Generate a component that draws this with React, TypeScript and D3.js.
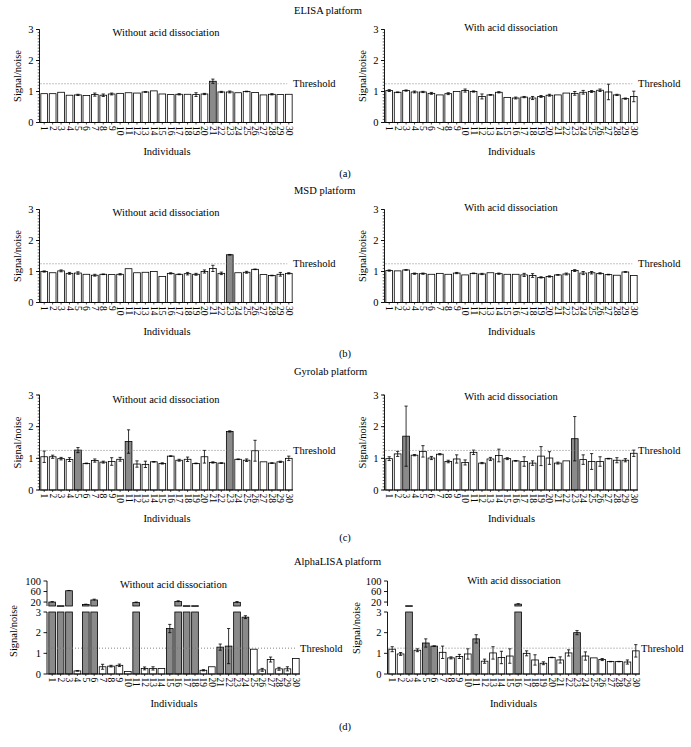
import React from "react";
import * as d3 from "d3";

const individuals = ["1","2","3","4","5","6","7","8","9","10","11","12","13","14","15","16","17","18","19","20","21","22","23","24","25","26","27","28","29","30"];
const yTicks = [0, 1, 2, 3];
const upperTicks = [20, 60, 100];
const threshold = 1.25;

const platformTitles = ["ELISA platform", "MSD platform", "Gyrolab platform", "AlphaLISA platform"];
const panelLetters = ["(a)", "(b)", "(c)", "(d)"];
const subtitles = ["Without acid dissociation", "With acid dissociation"];

// ELISA
const elisaWithout = [0.93,0.93,0.975,0.88,0.89,0.87,0.9,0.88,0.92,0.94,0.96,0.95,0.985,1.02,0.92,0.9,0.91,0.91,0.9,0.92,1.33,0.985,0.985,0.96,1.0,0.97,0.89,0.91,0.9,0.91];
const elisaWithoutErr = [0,0,0,0,0.02,0,0.05,0.04,0.03,0,0,0,0.01,0,0,0,0.02,0,0.06,0.02,0.07,0.02,0.03,0,0.01,0,0,0.02,0,0];
const elisaWithoutPos = ["21"];
const elisaWith = [1.03,0.975,1.03,0.985,0.985,0.94,0.89,0.93,1.0,1.03,1.0,0.84,0.89,0.975,0.81,0.79,0.82,0.79,0.84,0.88,0.89,0.95,0.94,0.975,1.0,1.04,0.985,0.89,0.77,0.84];
const elisaWithErr = [0.03,0.01,0.02,0.03,0.02,0.03,0,0.03,0,0.05,0.02,0.08,0.01,0.02,0,0.03,0.02,0.05,0.03,0.03,0,0,0.06,0.06,0.03,0.04,0.25,0.02,0.02,0.17];
const elisaWithPos: string[] = [];

// MSD
const msdWithout = [1.0,0.96,1.02,0.94,0.95,0.91,0.88,0.91,0.9,0.91,1.09,0.96,0.975,1.0,0.84,0.94,0.91,0.93,0.91,1.0,1.1,0.94,1.54,0.96,0.975,1.07,0.9,0.87,0.91,0.94];
const msdWithoutErr = [0.02,0,0.03,0.03,0.04,0,0.03,0.01,0,0.02,0,0,0,0,0,0.02,0.01,0.04,0.03,0.05,0.1,0.04,0.01,0,0.03,0.01,0,0.01,0.06,0.02];
const msdWithoutPos = ["23"];
const msdWith = [1.03,1.02,1.05,0.93,0.93,0.91,0.94,0.91,0.95,0.89,0.94,0.92,0.96,0.93,0.91,0.91,0.89,0.87,0.81,0.84,0.89,0.92,1.03,0.95,0.96,0.94,0.9,0.88,0.985,0.87];
const msdWithErr = [0.02,0,0.01,0.02,0.02,0,0,0,0.02,0,0.01,0.02,0,0.02,0,0,0.05,0.06,0.02,0.02,0.01,0.03,0.03,0.05,0.04,0.02,0.01,0,0.01,0];
const msdWithPos: string[] = [];

// Gyrolab
const gyroWithout = [1.05,1.05,0.99,0.96,1.26,0.84,0.93,0.88,0.9,0.97,1.53,0.82,0.81,0.89,0.84,1.07,0.94,0.97,0.84,1.05,0.87,0.85,1.85,0.97,0.94,1.24,0.89,0.85,0.89,1.0];
const gyroWithoutErr = [0.18,0.05,0.04,0.06,0.08,0.01,0.05,0.03,0.12,0.06,0.37,0.1,0.1,0.01,0.02,0.01,0.03,0.07,0.01,0.2,0.02,0.01,0.02,0.01,0.04,0.33,0,0.01,0.02,0.07];
const gyroWithoutPos = ["5", "11", "23"];
const gyroWith = [0.99,1.14,1.7,1.1,1.22,1.01,1.13,0.9,0.98,0.87,1.19,0.85,0.98,1.09,0.99,0.92,0.9,0.85,1.07,1.01,0.85,0.92,1.62,0.96,0.9,0.9,0.99,0.94,0.94,1.16];
const gyroWithErr = [0.06,0.08,0.95,0.02,0.18,0.05,0.02,0.04,0.13,0.08,0.07,0.02,0.05,0.2,0.03,0.01,0.15,0.07,0.3,0.2,0.03,0,0.7,0.15,0.25,0.15,0.01,0.08,0.05,0.1];
const gyroWithPos = ["3", "23"];

// AlphaLISA
const alphaWithout = [20,6,63,0.15,11,28,0.35,0.38,0.42,0.12,18,0.27,0.27,0.27,2.2,22,6,6,0.18,0.35,1.3,1.35,19,2.75,1.2,0.2,0.7,0.25,0.25,0.75];
const alphaWithoutErr = [2,0,1,0.01,1,3,0.12,0.04,0.06,0,2,0.07,0.08,0,0.2,3,0,0,0.03,0,0.15,0.85,3,0.07,0,0.07,0.12,0.07,0.1,0];
const alphaWithoutPos = ["1","2","3","5","6","11","15","16","17","18","21","22","23","24"];
const alphaWith = [1.2,0.97,6,1.15,1.5,1.35,1.05,0.78,0.85,0.97,1.7,0.62,1.02,0.8,0.87,12,1.0,0.68,0.52,0.8,0.68,1.02,2.0,0.87,0.78,0.7,0.6,0.6,0.58,1.12];
const alphaWithErr = [0.12,0.07,0,0.07,0.2,0.01,0.3,0.05,0.1,0.25,0.2,0.1,0.3,0.3,0.35,2,0.12,0.25,0.07,0.01,0.15,0.15,0.1,0.2,0,0.05,0.01,0.01,0.1,0.3];
const alphaWithPos = ["3","5","6","11","16","23"];

const FONT = "'Liberation Serif', 'DejaVu Serif', serif";
const GRAY = "#8a8a8a";
const FS = 10.5;

type Layout = {
  axisX: number; x0: number; x1: number; y0: number; yTop: number;
  subX: number; subY: number; indX: number; indY: number;
  labX: number; thrX: number;
};

function XAxis({ x, y0, axisX, x1 }: any) {
  return (
    <g>
      <line x1={axisX} x2={x1} y1={y0} y2={y0} stroke="#000" strokeWidth={0.9} />
      {individuals.map((d) => {
        const cx = (x(d) as number) + x.bandwidth() / 2;
        return (
          <g key={d}>
            <line x1={cx} x2={cx} y1={y0} y2={y0 + 2} stroke="#000" strokeWidth={0.7} />
            <text x={0} y={0} transform={`translate(${cx},${y0 + 3.5}) rotate(90)`} fontSize={9.5} dominantBaseline="central" textAnchor="start" fontFamily={FONT}>{d}</text>
          </g>
        );
      })}
    </g>
  );
}

function Bars({ values, errs, pos, x, y }: any) {
  const bw = x.bandwidth();
  return (
    <g>
      {individuals.map((d, i) => {
        const v = values[i];
        const e = errs[i];
        const bx = x(d) as number;
        const cx = bx + bw / 2;
        return (
          <g key={d}>
            <rect x={bx} y={y(v)} width={bw} height={y(0) - y(v)} fill={pos.includes(d) ? GRAY : "#fff"} stroke="#000" strokeWidth={0.8} />
            {e > 0 && (
              <g stroke="#000" strokeWidth={0.8}>
                <line x1={cx} x2={cx} y1={y(v + e)} y2={y(v - e)} />
                <line x1={cx - 1.6} x2={cx + 1.6} y1={y(v + e)} y2={y(v + e)} />
                <line x1={cx - 1.6} x2={cx + 1.6} y1={y(v - e)} y2={y(v - e)} />
              </g>
            )}
          </g>
        );
      })}
    </g>
  );
}

function Panel({ values, errs, pos, L, subtitle }: { values: number[]; errs: number[]; pos: string[]; L: Layout; subtitle: string }) {
  const x = d3.scaleBand<string>().domain(individuals).range([L.x0, L.x1]).paddingInner(0.2).paddingOuter(0.1);
  const y = d3.scaleLinear().domain([0, 3]).range([L.y0, L.yTop]);
  const minor = d3.range(0, 3.001, 0.1);
  const lastRight = (x(individuals[individuals.length - 1]) as number) + x.bandwidth();
  return (
    <g fontFamily={FONT}>
      <text x={L.subX} y={L.subY} fontSize={FS} textAnchor="middle">{subtitle}</text>
      <line x1={L.axisX} x2={L.axisX} y1={y(0)} y2={y(3)} stroke="#000" strokeWidth={0.9} />
      {minor.map((t, i) => (
        <line key={i} x1={L.axisX - 1.8} x2={L.axisX} y1={y(t)} y2={y(t)} stroke="#000" strokeWidth={0.6} />
      ))}
      {yTicks.map((t) => (
        <g key={t}>
          <line x1={L.axisX - 3.5} x2={L.axisX} y1={y(t)} y2={y(t)} stroke="#000" strokeWidth={0.9} />
          <text x={L.axisX - 6} y={y(t)} fontSize={FS} textAnchor="end" dominantBaseline="central">{t}</text>
        </g>
      ))}
      <text transform={`translate(${L.labX},${(y(0) + y(3)) / 2}) rotate(-90)`} fontSize={FS} textAnchor="middle" dominantBaseline="central">Signal/noise</text>
      <Bars values={values} errs={errs} pos={pos} x={x} y={y} />
      <line x1={L.axisX + 1} x2={lastRight - 5} y1={y(threshold)} y2={y(threshold)} stroke="#777" strokeWidth={0.9} strokeDasharray="1,2" />
      <text x={L.thrX} y={y(threshold)} fontSize={FS} dominantBaseline="central">Threshold</text>
      <XAxis x={x} y0={y(0)} axisX={L.axisX} x1={L.x1} />
      <text x={L.indX} y={L.indY} fontSize={FS} textAnchor="middle">Individuals</text>
    </g>
  );
}

type BLayout = Layout & { upBottom: number; upTop: number; labY: number };

function BrokenPanel({ values, errs, pos, L, subtitle }: { values: number[]; errs: number[]; pos: string[]; L: BLayout; subtitle: string }) {
  const x = d3.scaleBand<string>().domain(individuals).range([L.x0, L.x1]).paddingInner(0.2).paddingOuter(0.1);
  const yl = d3.scaleLinear().domain([0, 3]).range([L.y0, L.yTop]);
  const yu = d3.scaleLinear().domain([5, 100]).range([L.upBottom, L.upTop]);
  const bw = x.bandwidth();
  const lastRight = (x(individuals[individuals.length - 1]) as number) + bw;
  return (
    <g fontFamily={FONT}>
      <text x={L.subX} y={L.subY} fontSize={FS} textAnchor="middle">{subtitle}</text>
      <line x1={L.axisX} x2={L.axisX} y1={yl(0)} y2={yl(3)} stroke="#000" strokeWidth={0.9} />
      <line x1={L.axisX} x2={L.axisX} y1={yu(5)} y2={yu(100)} stroke="#000" strokeWidth={0.9} />
      {yTicks.map((t) => (
        <g key={t}>
          <line x1={L.axisX - 3.5} x2={L.axisX} y1={yl(t)} y2={yl(t)} stroke="#000" strokeWidth={0.9} />
          <text x={L.axisX - 6} y={yl(t)} fontSize={FS} textAnchor="end" dominantBaseline="central">{t}</text>
        </g>
      ))}
      {upperTicks.map((t) => (
        <g key={t}>
          <line x1={L.axisX - 3.5} x2={L.axisX} y1={yu(t)} y2={yu(t)} stroke="#000" strokeWidth={0.9} />
          <text x={L.axisX - 6} y={yu(t)} fontSize={FS} textAnchor="end" dominantBaseline="central">{t}</text>
        </g>
      ))}
      <text transform={`translate(${L.labX},${L.labY}) rotate(-90)`} fontSize={FS} textAnchor="middle" dominantBaseline="central">Signal/noise</text>
      {individuals.map((d, i) => {
        const v = values[i];
        const e = errs[i];
        const bx = x(d) as number;
        const cx = bx + bw / 2;
        const fill = pos.includes(d) ? GRAY : "#fff";
        const lowTop = yl(Math.min(v, 3));
        const big = v > 5;
        const sc = big ? yu : yl;
        return (
          <g key={d}>
            <rect x={bx} y={lowTop} width={bw} height={yl(0) - lowTop} fill={fill} stroke="#000" strokeWidth={0.8} />
            {big && (
              <rect x={bx} y={yu(v)} width={bw} height={Math.max(0.6, yu(5) - yu(v))} fill={fill} stroke="#000" strokeWidth={0.8} />
            )}
            {e > 0 && (
              <g stroke="#000" strokeWidth={0.8}>
                <line x1={cx} x2={cx} y1={sc(v + e)} y2={sc(Math.max(big ? 5 : 0, v - e))} />
                <line x1={cx - 1.6} x2={cx + 1.6} y1={sc(v + e)} y2={sc(v + e)} />
                {!big && <line x1={cx - 1.6} x2={cx + 1.6} y1={sc(v - e)} y2={sc(v - e)} />}
              </g>
            )}
          </g>
        );
      })}
      <line x1={L.axisX + 1} x2={lastRight - 4} y1={yl(threshold)} y2={yl(threshold)} stroke="#777" strokeWidth={0.9} strokeDasharray="1,2" />
      <text x={L.thrX} y={yl(threshold)} fontSize={FS} dominantBaseline="central">Threshold</text>
      <XAxis x={x} y0={yl(0)} axisX={L.axisX} x1={L.x1} />
      <text x={L.indX} y={L.indY} fontSize={FS} textAnchor="middle">Individuals</text>
    </g>
  );
}

function mk(left: boolean, dy: number, y0: number, yTop: number, subY: number, indY: number): Layout {
  return left
    ? { axisX: 39.5, x0: 40, x1: 293, y0: y0 + dy, yTop: yTop + dy, subX: 166, subY: subY + dy, indX: 167, indY: indY + dy, labX: 17, thrX: 293 }
    : { axisX: 384.5, x0: 385, x1: 638, y0: y0 + dy, yTop: yTop + dy, subX: 511, subY: subY + dy, indX: 511.5, indY: indY + dy, labX: 362, thrX: 638 };
}

export default function App() {
  const aL = mk(true, 0, 122.5, 29.5, 36, 155);
  const aR = mk(false, 0, 122.5, 29.5, 30.5, 155);
  const bL = mk(true, 180, 122.5, 29.5, 36, 155);
  const bR = mk(false, 180, 122.5, 29.5, 30.5, 155);
  const cL = mk(true, 0, 490, 395, 403, 522);
  const cR = mk(false, 0, 490, 395, 400, 522);
  const dL: BLayout = { axisX: 47, x0: 48, x1: 300, y0: 674, yTop: 612, upBottom: 606, upTop: 581, subX: 173.5, subY: 587.5, indX: 174, indY: 706.5, labX: 13, labY: 631, thrX: 300 };
  const dR: BLayout = { axisX: 387.5, x0: 388, x1: 640, y0: 674, yTop: 612, upBottom: 606, upTop: 581, subX: 514, subY: 584, indX: 513.5, indY: 706.5, labX: 356, labY: 628, thrX: 641 };
  const titleY = [13.5, 193.5, 375, 565];
  const letterY = [177, 357, 541, 730];
  return (
    <svg width={691} height={747} style={{ position: "absolute", left: 0, top: 0, background: "#fff" }} fontFamily={FONT}>
      <rect width={691} height={747} fill="#fff" />
      {platformTitles.map((t, i) => (
        <text key={t} x={294} y={titleY[i]} fontSize={FS} textAnchor="start">{t}</text>
      ))}
      {panelLetters.map((t, i) => (
        <text key={t} x={345} y={letterY[i]} fontSize={FS} textAnchor="middle">{t}</text>
      ))}
      <Panel values={elisaWithout} errs={elisaWithoutErr} pos={elisaWithoutPos} L={aL} subtitle={subtitles[0]} />
      <Panel values={elisaWith} errs={elisaWithErr} pos={elisaWithPos} L={aR} subtitle={subtitles[1]} />
      <Panel values={msdWithout} errs={msdWithoutErr} pos={msdWithoutPos} L={bL} subtitle={subtitles[0]} />
      <Panel values={msdWith} errs={msdWithErr} pos={msdWithPos} L={bR} subtitle={subtitles[1]} />
      <Panel values={gyroWithout} errs={gyroWithoutErr} pos={gyroWithoutPos} L={cL} subtitle={subtitles[0]} />
      <Panel values={gyroWith} errs={gyroWithErr} pos={gyroWithPos} L={cR} subtitle={subtitles[1]} />
      <BrokenPanel values={alphaWithout} errs={alphaWithoutErr} pos={alphaWithoutPos} L={dL} subtitle={subtitles[0]} />
      <BrokenPanel values={alphaWith} errs={alphaWithErr} pos={alphaWithPos} L={dR} subtitle={subtitles[1]} />
    </svg>
  );
}
